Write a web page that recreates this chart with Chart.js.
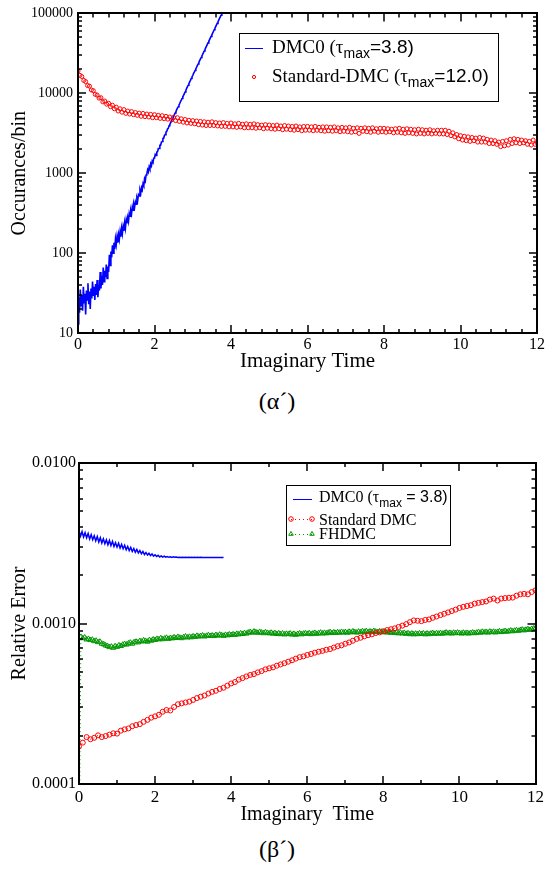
<!DOCTYPE html>
<html><head><meta charset="utf-8">
<script src="https://cdn.jsdelivr.net/npm/chart.js@4.4.1/dist/chart.umd.min.js"></script>
<style>
html,body{margin:0;padding:0;background:#fff;}
body{width:547px;height:869px;position:relative;overflow:hidden;}
#c1{position:absolute;left:0;top:0;}
#c2{position:absolute;left:0;top:440px;}
.cap{position:absolute;font-family:'Liberation Serif','Times New Roman',serif;font-size:24px;line-height:28px;color:#000;width:100px;text-align:center;}
</style></head><body>
<canvas id="c1" width="547" height="380"></canvas>
<canvas id="c2" width="547" height="390"></canvas>
<div class="cap" style="left:227px;top:387px;">(α´)</div>
<div class="cap" style="left:227px;top:835px;">(β´)</div>
<script>
// ---------------- DATA ----------------
// Panel (α′): occurrences per bin vs imaginary time
const dmc0CountsStep = 0.02;   // time spacing of DMC0 samples (0 … 3.8)
const dmc0Counts = [
  13, 28, 18, 35, 22, 30, 19, 38, 24, 31,
  17, 34, 26, 42, 23, 33, 20, 36, 27, 44,
  29, 38, 26, 41, 30, 46, 28, 40, 34, 58,
  36, 52, 40, 66, 44, 60, 50, 72, 48, 68,
  58, 95, 70, 105, 88, 125, 100, 135, 112, 150,
  128, 160, 135, 170, 148, 185, 160, 205, 175, 215,
  190, 240, 205, 262, 235, 280, 250, 315, 290, 340,
  310, 380, 345, 410, 375, 440, 410, 490, 455, 540,
  520, 610, 560, 660, 620, 740, 700, 850, 800, 950,
  980, 1100, 1040, 1200, 1130, 1310, 1240, 1420, 1370, 1540,
  1550, 1720, 1670, 1840, 1860, 2040, 2040, 2240, 2240, 2440,
  2490, 2730, 2740, 2970, 3040, 3270, 3330, 3570, 3640, 3920,
  4050, 4290, 4420, 4720, 4880, 5150, 5400, 5680, 5900, 6250,
  6500, 6800, 7150, 7450, 7900, 8200, 8600, 9050, 9400, 9900,
  10400, 10900, 11500, 12000, 12600, 13200, 13900, 14500, 15300, 16000,
  16700, 17600, 18400, 19300, 20200, 21200, 22200, 23300, 24400, 25600,
  26800, 28100, 29400, 30800, 32300, 33900, 35500, 37200, 39000, 40900,
  42800, 44900, 47000, 49300, 51600, 54100, 56700, 59400, 62300, 65300,
  68400, 71700, 75100, 78700, 82500, 86500, 90600, 95000, 99500, 104000,
  109000
];
const stdDmcCountsStep = 0.05; // time spacing of Standard-DMC samples (0 … 12)
const stdDmcCounts = [
  19000, 16800, 16200, 14500, 14000, 12500, 12300, 11000, 10800, 9700,
  9500, 8700, 8800, 7800, 8000, 7300, 7500, 6800, 7100, 6400,
  6700, 6000, 6400, 5800, 6250, 5600, 6000, 5500, 5900, 5400,
  5750, 5300, 5650, 5150, 5600, 5100, 5500, 5050, 5450, 4950,
  5400, 4950, 5300, 4850, 5250, 4800, 5150, 4750, 5050, 4650,
  5000, 4550, 4950, 4450, 4800, 4350, 4700, 4250, 4600, 4200,
  4550, 4150, 4500, 4050, 4450, 4000, 4400, 3950, 4350, 3950,
  4400, 3950, 4300, 3900, 4250, 3850, 4300, 3850, 4200, 3800,
  4250, 3800, 4150, 3750, 4200, 3800, 4100, 3700, 4150, 3700,
  4100, 3700, 4150, 3650, 4050, 3700, 4000, 3600, 4050, 3650,
  4000, 3600, 3950, 3550, 4000, 3600, 3900, 3500, 3950, 3550,
  3900, 3500, 3850, 3450, 3900, 3500, 3800, 3400, 3850, 3450,
  3850, 3450, 3800, 3400, 3850, 3450, 3750, 3400, 3800, 3350,
  3800, 3400, 3750, 3350, 3800, 3400, 3700, 3300, 3750, 3350,
  3700, 3300, 3750, 3250, 3650, 3300, 3700, 3150, 3650, 3350,
  3700, 3300, 3650, 3250, 3700, 3350, 3600, 3250, 3650, 3300,
  3650, 3250, 3600, 3300, 3550, 3200, 3600, 3250, 3650, 3200,
  3550, 3150, 3600, 3200, 3550, 3150, 3500, 3100, 3550, 3150,
  3500, 3100, 3450, 3150, 3500, 3100, 3400, 3150, 3450, 3100,
  3450, 3100, 3450, 3050, 3350, 2950, 3200, 2850, 3050, 2700,
  2950, 2600, 2900, 2550, 2850, 2500, 2800, 2550, 2750, 2450,
  2800, 2450, 2750, 2450, 2650, 2350, 2600, 2350, 2550, 2300,
  2450, 2150, 2500, 2200, 2550, 2250, 2650, 2350, 2700, 2400,
  2650, 2350, 2600, 2400, 2550, 2300, 2500, 2250, 2600, 2300,
  2400
];
const countTicks = [10, 100, 1000, 10000, 100000];

// Panel (β′): relative error vs imaginary time
const dmc0ErrStep = 0.04;
const dmc0Err = [
  0.00378, 0.00350, 0.00374, 0.00346, 0.00368, 0.00342, 0.00364, 0.00336, 0.00358, 0.00333,
  0.00352, 0.00327, 0.00348, 0.00322, 0.00342, 0.00317, 0.00337, 0.00314, 0.00332, 0.00309,
  0.00329, 0.00306, 0.00325, 0.00302, 0.00319, 0.00299, 0.00316, 0.00295, 0.00311, 0.00292,
  0.00307, 0.00288, 0.00302, 0.00285, 0.00298, 0.00281, 0.00293, 0.00278, 0.00289, 0.00275,
  0.00285, 0.00272, 0.00281, 0.00269, 0.00277, 0.00267, 0.00274, 0.00265, 0.00271, 0.00263,
  0.00268, 0.002615, 0.00266, 0.00260, 0.00264, 0.002595, 0.00263, 0.00259, 0.002615, 0.002585,
  0.00260, 0.00258, 0.00260, 0.002585, 0.002595, 0.00258, 0.00259, 0.00258, 0.00259, 0.00258,
  0.002585, 0.00258, 0.002585, 0.002578, 0.002584, 0.002578, 0.002584, 0.002578, 0.002583, 0.002578,
  0.002583, 0.002578, 0.002582, 0.002578, 0.002582, 0.002578, 0.002582, 0.002578, 0.002581, 0.002578,
  0.002581, 0.002578, 0.002581, 0.002578, 0.002580, 0.002579
];
const stdDmcErrStep = 0.1;
const stdDmcErr = [
  0.000171, 0.000181, 0.000196, 0.000190, 0.000194, 0.000201, 0.000196, 0.000199, 0.000203, 0.000207,
  0.000206, 0.000215, 0.000219, 0.000222, 0.000229, 0.000233, 0.000236, 0.000244, 0.000251, 0.000259,
  0.000264, 0.000270, 0.000282, 0.000289, 0.000287, 0.000302, 0.000314, 0.000318, 0.000322, 0.000326,
  0.000334, 0.000343, 0.000350, 0.000356, 0.000366, 0.000375, 0.000381, 0.000391, 0.000398, 0.000410,
  0.000423, 0.000432, 0.000447, 0.000457, 0.000468, 0.000478, 0.000484, 0.000496, 0.000505, 0.000518,
  0.000526, 0.000533, 0.000546, 0.000556, 0.000566, 0.000578, 0.000590, 0.000604, 0.000617, 0.000624,
  0.000637, 0.000646, 0.000658, 0.000667, 0.000675, 0.000686, 0.000693, 0.000708, 0.000722, 0.000731,
  0.000748, 0.000762, 0.000781, 0.000802, 0.000815, 0.000832, 0.000846, 0.000856, 0.000872, 0.000880,
  0.000895, 0.000910, 0.000921, 0.000933, 0.000952, 0.000970, 0.000991, 0.001020, 0.001045, 0.001040,
  0.001034, 0.001052, 0.001060, 0.001085, 0.001105, 0.001128, 0.001150, 0.001172, 0.001195, 0.001220,
  0.001250, 0.001270, 0.001285, 0.001300, 0.001330, 0.001345, 0.001360, 0.001372, 0.001410, 0.001430,
  0.001390, 0.001430, 0.001440, 0.001445, 0.001450, 0.001490, 0.001520, 0.001530, 0.001520, 0.001570,
  0.001610
];
const fhdmcErrStep = 0.05;
const fhdmcErr = [
  0.00002, 0.000825, 0.000810, 0.000818, 0.000795, 0.000802, 0.000788, 0.000793, 0.000776, 0.000781,
  0.000765, 0.000770, 0.000748, 0.000742, 0.000730, 0.000724, 0.000712, 0.000718, 0.000706, 0.000722,
  0.000715, 0.000731, 0.000724, 0.000738, 0.000745, 0.000739, 0.000752, 0.000760, 0.000748, 0.000765,
  0.000770, 0.000762, 0.000778, 0.000772, 0.000785, 0.000779, 0.000770, 0.000788, 0.000781, 0.000795,
  0.000790, 0.000802, 0.000796, 0.000810, 0.000798, 0.000806, 0.000815, 0.000802, 0.000812, 0.000808,
  0.000820, 0.000812, 0.000825, 0.000816, 0.000810, 0.000822, 0.000830, 0.000818, 0.000826, 0.000820,
  0.000832, 0.000825, 0.000838, 0.000829, 0.000835, 0.000842, 0.000830, 0.000838, 0.000845, 0.000836,
  0.000842, 0.000835, 0.000848, 0.000840, 0.000852, 0.000845, 0.000838, 0.000850, 0.000844, 0.000855,
  0.000848, 0.000856, 0.000850, 0.000862, 0.000855, 0.000868, 0.000860, 0.000872, 0.000865, 0.000878,
  0.000885, 0.000876, 0.000890, 0.000882, 0.000875, 0.000886, 0.000878, 0.000870, 0.000882, 0.000874,
  0.000868, 0.000876, 0.000864, 0.000872, 0.000860, 0.000869, 0.000858, 0.000866, 0.000855, 0.000863,
  0.000858, 0.000866, 0.000853, 0.000862, 0.000850, 0.000860, 0.000868, 0.000856, 0.000864, 0.000870,
  0.000862, 0.000870, 0.000858, 0.000866, 0.000874, 0.000862, 0.000870, 0.000878, 0.000866, 0.000874,
  0.000868, 0.000876, 0.000884, 0.000872, 0.000880, 0.000874, 0.000882, 0.000876, 0.000886, 0.000878,
  0.000884, 0.000876, 0.000888, 0.000880, 0.000892, 0.000884, 0.000878, 0.000890, 0.000882, 0.000895,
  0.000888, 0.000896, 0.000884, 0.000892, 0.000886, 0.000898, 0.000890, 0.000884, 0.000894, 0.000888,
  0.000882, 0.000890, 0.000878, 0.000886, 0.000875, 0.000882, 0.000872, 0.000880, 0.000868, 0.000876,
  0.000866, 0.000874, 0.000862, 0.000870, 0.000858, 0.000866, 0.000856, 0.000864, 0.000858, 0.000868,
  0.000860, 0.000868, 0.000856, 0.000865, 0.000858, 0.000866, 0.000872, 0.000862, 0.000870, 0.000864,
  0.000872, 0.000864, 0.000870, 0.000878, 0.000868, 0.000874, 0.000866, 0.000876, 0.000870, 0.000878,
  0.000872, 0.000866, 0.000876, 0.000868, 0.000874, 0.000866, 0.000872, 0.000878, 0.000870, 0.000876,
  0.000884, 0.000876, 0.000888, 0.000880, 0.000886, 0.000878, 0.000890, 0.000882, 0.000888, 0.000880,
  0.000886, 0.000894, 0.000884, 0.000890, 0.000898, 0.000888, 0.000896, 0.000904, 0.000894, 0.000902,
  0.000908, 0.000900, 0.000910, 0.000916, 0.000906, 0.000914, 0.000922, 0.000912, 0.000925, 0.000930,
  0.000938
];
const errTicks = [0.0001, 0.001, 0.01];
const timeRange = [0, 12];

// ---------------- HELPERS ----------------
const SERIF = "'Liberation Serif','Times New Roman',serif";
const SANS = "'Liberation Sans',Arial,sans-serif";
function xy(values, dt) { return values.map((v, i) => ({ x: +(i * dt).toFixed(4), y: v })); }

const frameTicks = {
  id: 'frameTicks',
  afterDatasetsDraw(chart, args, o) {
    const { ctx, chartArea: a, scales: { x, y } } = chart;
    ctx.save();
    ctx.strokeStyle = '#000';
    ctx.lineWidth = o.tickWidth;
    ctx.beginPath();
    const xt = (v, len) => {
      const p = Math.round(x.getPixelForValue(v));
      ctx.moveTo(p, a.bottom); ctx.lineTo(p, a.bottom - len);
      ctx.moveTo(p, a.top); ctx.lineTo(p, a.top + len);
    };
    const yt = (v, len) => {
      const p = Math.round(y.getPixelForValue(v));
      ctx.moveTo(a.left, p); ctx.lineTo(a.left + len, p);
      ctx.moveTo(a.right, p); ctx.lineTo(a.right - len, p);
    };
    const n = Math.round((x.max - x.min) / o.xMinor);
    for (let k = 0; k <= n; k++) {
      const v = x.min + k * o.xMinor;
      const isMajor = Math.abs(v / o.xMajor - Math.round(v / o.xMajor)) < 1e-6;
      xt(v, isMajor ? o.majorLen : o.minorLen);
    }
    const e0 = Math.round(Math.log10(y.min)), e1 = Math.round(Math.log10(y.max));
    for (let e = e0; e <= e1; e++) {
      const d = Math.pow(10, e);
      yt(d, o.majorLen);
      if (e < e1) for (let m = 2; m <= 9; m++) yt(m * d, o.minorLen);
    }
    ctx.stroke();
    ctx.lineWidth = o.frameWidth;
    ctx.strokeRect(Math.round(a.left), Math.round(a.top), Math.round(a.width), Math.round(a.height));
    ctx.restore();
  }
};

function drawParts(ctx, x, y, parts) {
  for (const p of parts) {
    ctx.font = p.f;
    ctx.fillText(p.t, x, y + (p.dy || 0));
    x += ctx.measureText(p.t).width;
  }
}
function drawMarker(ctx, kind, cx, cy, r, color) {
  ctx.save();
  ctx.strokeStyle = color; ctx.lineWidth = 1;
  ctx.beginPath();
  if (kind === 'circle') ctx.arc(cx, cy, r, 0, Math.PI * 2);
  else { ctx.moveTo(cx, cy - r); ctx.lineTo(cx + r * 0.866, cy + r * 0.5); ctx.lineTo(cx - r * 0.866, cy + r * 0.5); ctx.closePath(); }
  ctx.stroke();
  ctx.restore();
}
const richLegend = {
  id: 'richLegend',
  afterDraw(chart, args, o) {
    const ctx = chart.ctx;
    ctx.save();
    ctx.fillStyle = '#fff';
    ctx.fillRect(o.box[0], o.box[1], o.box[2], o.box[3]);
    ctx.strokeStyle = '#000'; ctx.lineWidth = 1;
    ctx.strokeRect(o.box[0] + 0.5, o.box[1] + 0.5, o.box[2], o.box[3]);
    ctx.textBaseline = 'alphabetic'; ctx.textAlign = 'left'; ctx.fillStyle = '#000';
    for (const r of o.rows) {
      const s = r.sample;
      ctx.save();
      ctx.strokeStyle = s.color; ctx.lineWidth = s.lw || 1;
      if (s.line) {
        ctx.setLineDash(s.dash || []);
        ctx.beginPath(); ctx.moveTo(s.x0, s.y + 0.5); ctx.lineTo(s.x1, s.y + 0.5); ctx.stroke();
        ctx.setLineDash([]);
      }
      if (s.marker) for (const mx of s.mx) drawMarker(ctx, s.marker, mx, s.y, s.r, s.color);
      ctx.restore();
      ctx.fillStyle = '#000';
      drawParts(ctx, r.x, r.y, r.parts);
    }
    ctx.restore();
  }
};

function axisCommon(tickSize, pad) {
  return {
    grid: { display: false, drawTicks: false },
    border: { display: false },
    ticks: { padding: pad, color: '#000', font: { family: SERIF, size: tickSize }, maxRotation: 0, autoSkip: false }
  };
}

// ---------------- CHART α′ ----------------
new Chart(document.getElementById('c1'), {
  type: 'line',
  data: {
    datasets: [
      { label: 'Standard-DMC (τmax=12.0)', data: xy(stdDmcCounts, stdDmcCountsStep), showLine: false,
        pointStyle: 'circle', pointRadius: 2, pointBorderWidth: 1, pointBorderColor: '#ff0000',
        pointBackgroundColor: 'rgba(255,255,255,0)', borderColor: '#ff0000' },
      { label: 'DMC0 (τmax=3.8)', data: xy(dmc0Counts, dmc0CountsStep), borderColor: '#0000ff',
        borderWidth: 1.6, pointRadius: 0, tension: 0 }
    ]
  },
  options: {
    responsive: false, animation: false, events: [],
    layout: { padding: { left: 0, right: 7, top: 10, bottom: 0 } },
    plugins: {
      legend: { display: false }, tooltip: { enabled: false },
      frameTicks: { xMajor: 2, xMinor: 0.4, majorLen: 8, minorLen: 4, tickWidth: 1.5, frameWidth: 2 },
      richLegend: {
        box: [239, 33, 259, 68],
        rows: [
          { sample: { line: true, color: '#0000ff', x0: 245, x1: 263, y: 48 }, x: 272, y: 53,
            parts: [{ t: 'DMC0 (', f: `19px ${SERIF}` }, { t: 'τ', f: `19px ${SERIF}` },
                    { t: 'max', f: `14px ${SANS}`, dy: 5 }, { t: '=3.8)', f: `19px ${SANS}` }] },
          { sample: { marker: 'circle', color: '#ff0000', mx: [254], r: 1.6, y: 77 }, x: 272, y: 82,
            parts: [{ t: 'Standard-DMC (', f: `19px ${SERIF}` }, { t: 'τ', f: `19px ${SERIF}` },
                    { t: 'max', f: `14px ${SANS}`, dy: 5 }, { t: '=12.0)', f: `19px ${SANS}` }] }
        ]
      }
    },
    scales: {
      x: Object.assign(axisCommon(16, 2), {
        type: 'linear', min: timeRange[0], max: timeRange[1],
        title: { display: true, text: 'Imaginary Time', color: '#000', font: { family: SERIF, size: 21 }, padding: { top: 0, bottom: 6 } },
        afterFit(s) { s.height = 47; }
      }),
      y: Object.assign(axisCommon(14, 5), {
        type: 'logarithmic', min: countTicks[0], max: countTicks[countTicks.length - 1],
        afterBuildTicks(s) { s.ticks = countTicks.map(v => ({ value: v })); },
        title: { display: true, text: 'Occurances/bin', color: '#000', font: { family: SERIF, size: 20 }, padding: { top: 8, bottom: 0 } },
        afterFit(s) { s.width = 78; }
      })
    }
  },
  plugins: [frameTicks, richLegend]
});
(function () { const c = Chart.getChart('c1'); c.options.scales.x.ticks.stepSize = 2; c.options.scales.y.ticks.callback = v => String(v); c.update(); })();

// ---------------- CHART β′ ----------------
new Chart(document.getElementById('c2'), {
  type: 'line',
  data: {
    datasets: [
      { label: 'Standard DMC', data: xy(stdDmcErr, stdDmcErrStep), borderColor: '#ff0000', borderWidth: 1,
        borderDash: [1, 3], pointStyle: 'circle', pointRadius: 2.5, pointBorderWidth: 1,
        pointBorderColor: '#ff0000', pointBackgroundColor: 'rgba(255,255,255,0)', tension: 0 },
      { label: 'FHDMC', data: xy(fhdmcErr, fhdmcErrStep), borderColor: 'rgb(0,150,0)', borderWidth: 1,
        borderDash: [1, 3], pointStyle: 'triangle', pointRadius: 3, pointBorderWidth: 1,
        pointBorderColor: 'rgb(0,150,0)', pointBackgroundColor: 'rgba(255,255,255,0)', tension: 0 },
      { label: 'DMC0 (τmax = 3.8)', data: xy(dmc0Err, dmc0ErrStep), borderColor: '#0000ff', borderWidth: 1.5,
        pointRadius: 0, tension: 0 }
    ]
  },
  options: {
    responsive: false, animation: false, events: [],
    layout: { padding: { left: 0, right: 8, top: 23, bottom: 0 } },
    plugins: {
      legend: { display: false }, tooltip: { enabled: false },
      frameTicks: { xMajor: 2, xMinor: 1, majorLen: 8, minorLen: 4, tickWidth: 1.5, frameWidth: 2 },
      richLegend: {
        box: [286, 45, 164, 60],
        rows: [
          { sample: { line: true, color: '#0000ff', x0: 293, x1: 312, y: 59 }, x: 319, y: 62,
            parts: [{ t: 'DMC0 (', f: `16px ${SERIF}` }, { t: 'τ', f: `16px ${SERIF}` },
                    { t: 'max', f: `12px ${SANS}`, dy: 5 }, { t: ' = 3.8)', f: `16px ${SANS}` }] },
          { sample: { line: true, dash: [1, 3], marker: 'circle', color: '#ff0000', x0: 291, x1: 312, mx: [291, 312], r: 2.3, y: 79 }, x: 319, y: 85,
            parts: [{ t: 'Standard DMC', f: `16px ${SERIF}` }] },
          { sample: { line: true, dash: [1, 3], marker: 'triangle', color: 'rgb(0,150,0)', x0: 291, x1: 312, mx: [291, 312], r: 2.6, y: 94 }, x: 319, y: 99,
            parts: [{ t: 'FHDMC', f: `16px ${SERIF}` }] }
        ]
      }
    },
    scales: {
      x: Object.assign(axisCommon(17, 3), {
        type: 'linear', min: timeRange[0], max: timeRange[1],
        title: { display: true, text: 'Imaginary  Time', color: '#000', font: { family: SERIF, size: 20 }, padding: { top: 0, bottom: 3 } },
        afterFit(s) { s.height = 46; }
      }),
      y: Object.assign(axisCommon(16, 3), {
        type: 'logarithmic', min: errTicks[0], max: errTicks[errTicks.length - 1],
        afterBuildTicks(s) { s.ticks = errTicks.map(v => ({ value: v })); },
        title: { display: true, text: 'Relative Error', color: '#000', font: { family: SERIF, size: 20 }, padding: { top: 8, bottom: 0 } },
        afterFit(s) { s.width = 79; }
      })
    }
  },
  plugins: [frameTicks, richLegend]
});
(function () { const c = Chart.getChart('c2'); c.options.scales.x.ticks.stepSize = 2; c.options.scales.y.ticks.callback = v => Number(v).toFixed(4); c.update(); })();
</script>
</body></html>
